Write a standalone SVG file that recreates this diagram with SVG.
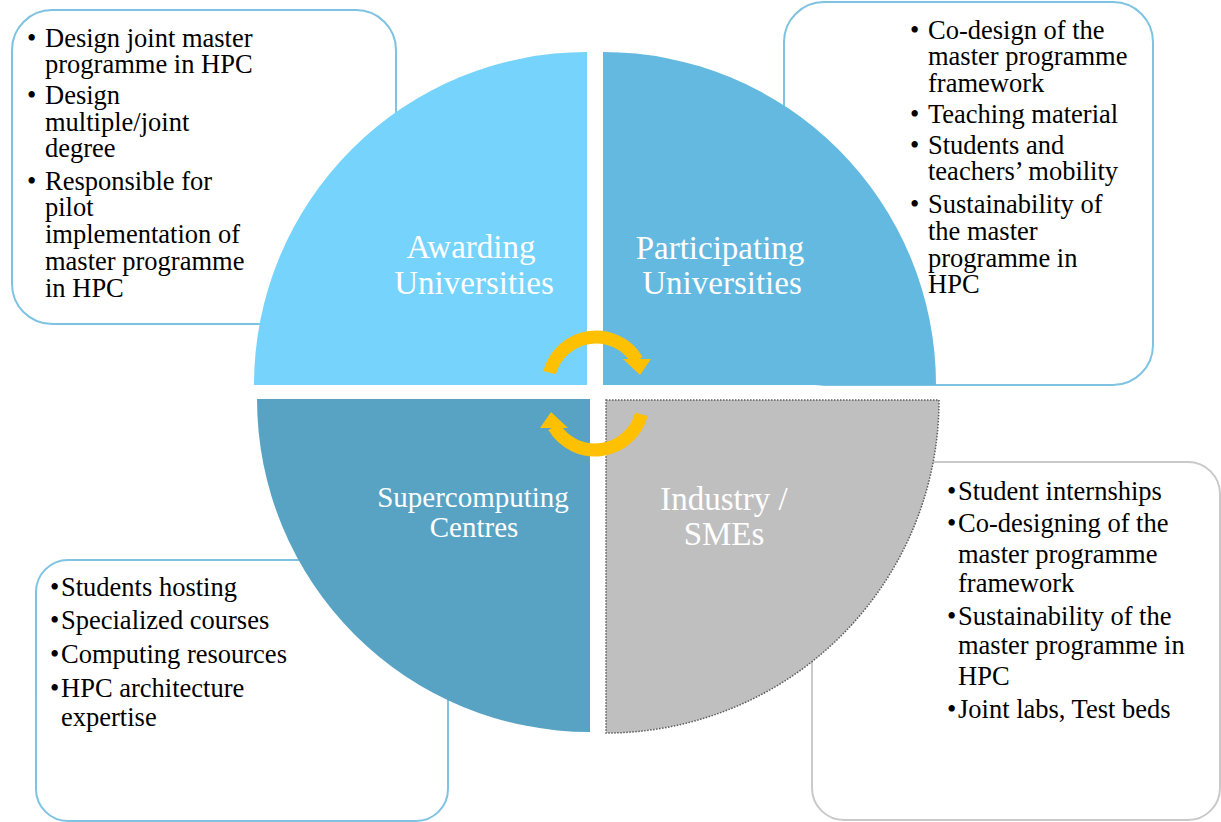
<svg xmlns="http://www.w3.org/2000/svg" width="1221" height="822" viewBox="0 0 1221 822">
<style>
.box{fill:#fff;stroke:#7fc3e3;stroke-width:2}
.boxg{fill:#fff;stroke:#c9c9c9;stroke-width:2}
.t{font-family:"Liberation Serif","Times New Roman",serif;font-size:26.5px;fill:#000}
.lbl{font-family:"Liberation Serif","Times New Roman",serif;fill:#fff;text-anchor:middle}
.arr{fill:none;stroke:#ffc000;stroke-width:13}
</style>
<defs>
<g id="circArrow">
<path class="arr" d="M549.6,372.6 A48,48 0 0 1 637.1,360.3"/>
<polygon points="623,359 651,359 640,375" fill="#ffc000"/>
</g>
</defs>
<rect width="1221" height="822" fill="#fff"/>

<g id="box-awarding">
<rect class="box" x="12" y="10" width="384" height="314" rx="40"/>
<text class="t"><tspan x="27" y="47">•</tspan><tspan x="45" y="47">Design joint master</tspan><tspan x="45" y="73">programme in HPC</tspan><tspan x="27" y="104">•</tspan><tspan x="45" y="104">Design</tspan><tspan x="45" y="131">multiple/joint</tspan><tspan x="45" y="157">degree</tspan><tspan x="27" y="190">•</tspan><tspan x="45" y="190">Responsible for</tspan><tspan x="45" y="216">pilot</tspan><tspan x="45" y="243">implementation of</tspan><tspan x="45" y="270">master programme</tspan><tspan x="45" y="297">in HPC</tspan></text>
</g>

<g id="box-participating">
<rect class="box" x="784" y="2" width="369" height="383" rx="40"/>
<text class="t"><tspan x="910" y="39">•</tspan><tspan x="928" y="39">Co-design of the</tspan><tspan x="928" y="65">master programme</tspan><tspan x="928" y="92">framework</tspan><tspan x="910" y="123">•</tspan><tspan x="928" y="123">Teaching material</tspan><tspan x="910" y="154">•</tspan><tspan x="928" y="154">Students and</tspan><tspan x="928" y="180">teachers’ mobility</tspan><tspan x="910" y="213">•</tspan><tspan x="928" y="213">Sustainability of</tspan><tspan x="928" y="240">the master</tspan><tspan x="928" y="267">programme in</tspan><tspan x="928" y="293">HPC</tspan></text>
</g>

<g id="box-supercomputing">
<rect class="box" x="36" y="560" width="412" height="261" rx="32"/>
<text class="t"><tspan x="50" y="596">•</tspan><tspan x="61" y="596">Students hosting</tspan><tspan x="50" y="629">•</tspan><tspan x="61" y="629">Specialized courses</tspan><tspan x="50" y="663">•</tspan><tspan x="61" y="663">Computing resources</tspan><tspan x="50" y="697">•</tspan><tspan x="61" y="697">HPC architecture</tspan><tspan x="61" y="726">expertise</tspan></text>
</g>

<g id="box-industry">
<rect class="boxg" x="812" y="462" width="408" height="358" rx="32"/>
<text class="t"><tspan x="947" y="500">•</tspan><tspan x="958" y="500">Student internships</tspan><tspan x="947" y="532">•</tspan><tspan x="958" y="532">Co-designing of the</tspan><tspan x="958" y="563">master programme</tspan><tspan x="958" y="592">framework</tspan><tspan x="947" y="625">•</tspan><tspan x="958" y="625">Sustainability of the</tspan><tspan x="958" y="654">master programme in</tspan><tspan x="958" y="685">HPC</tspan><tspan x="947" y="718">•</tspan><tspan x="958" y="718">Joint labs, Test beds</tspan></text>
</g>

<g id="q-awarding">
<path d="M587,385 L254,385 A333,333 0 0 1 587,52 Z" fill="#76d3fc"/>
<text class="lbl" font-size="33"><tspan x="471" y="258">Awarding</tspan><tspan x="474" y="294">Universities</tspan></text>
</g>
<g id="q-participating">
<path d="M603,385 L603,52 A333,333 0 0 1 936,385 Z" fill="#63b9e0"/>
<text class="lbl" font-size="33"><tspan x="720" y="259">Participating</tspan><tspan x="722" y="294">Universities</tspan></text>
</g>
<g id="q-supercomputing">
<path d="M590,399 L590,732 A333,333 0 0 1 257,399 Z" fill="#58a3c4"/>
<text class="lbl" font-size="29"><tspan x="473" y="507">Supercomputing</tspan><tspan x="474" y="537">Centres</tspan></text>
</g>
<g id="q-industry">
<path d="M606,400 L939,400 A333,333 0 0 1 606,733 Z" fill="#bfbfbf" stroke="#5a5a5a" stroke-width="1.5" stroke-dasharray="1.5 1.5"/>
<text class="lbl" font-size="33"><tspan x="724" y="510">Industry /</tspan><tspan x="724" y="545">SMEs</tspan></text>
</g>

<g id="connectors">
<use href="#circArrow"/>
<use href="#circArrow" transform="rotate(180 595.5 393.5)"/>
</g>
</svg>
